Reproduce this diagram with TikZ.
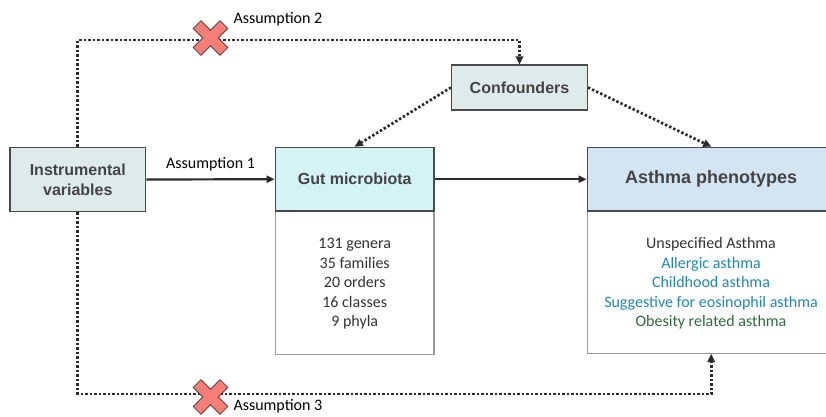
\documentclass[tikz,border=0pt]{standalone}
\usepackage{fontspec}
\setmainfont{Carlito}
\newfontfamily\titlefont{Liberation Sans}
\usetikzlibrary{arrows.meta,calc}
\definecolor{boxgray}{HTML}{DFEAEA}
\definecolor{gutfill}{HTML}{D3F3F5}
\definecolor{asfill}{HTML}{D3E5F3}
\definecolor{edgedark}{HTML}{4A4A4A}
\definecolor{edgelight}{HTML}{9A9A9A}
\definecolor{titletext}{HTML}{444444}
\definecolor{listtext}{HTML}{333333}
\definecolor{blueitem}{HTML}{2188B6}
\definecolor{greenitem}{HTML}{2F6B3B}
\definecolor{xfill}{HTML}{F67E76}
\definecolor{xedge}{HTML}{5A4040}
\definecolor{linedark}{HTML}{2B2B2B}
\tikzset{
  headbox/.style={draw=edgedark, line width=1.4pt, inner sep=0pt, align=center,
    font=\titlefont\bfseries\fontsize{16}{20}\selectfont, text=titletext},
  bodybox/.style={draw=edgelight, line width=1.3pt, fill=white, inner sep=0pt},
  listtxt/.style={align=center, font=\fontsize{16}{19.5}\selectfont, text=listtext},
  labeltxt/.style={font=\fontsize{16}{19}\selectfont, text=black},
  solidarrow/.style={draw=linedark, line width=2.2pt, -{Triangle[length=8pt,width=7pt]}},
  dotarrow/.style={draw=linedark, line width=2.7pt, dash pattern=on 2.4pt off 2.1pt,
    -{Triangle[length=8pt,width=8pt,line width=0pt]}},
  xmark/.style={fill=xfill, draw=xedge, line width=0.8pt, line join=miter}
}
\begin{document}
\begin{tikzpicture}[x=1pt,y=-1pt]
\useasboundingbox (0,0) rectangle (826,416);
\clip (0,0) rectangle (826,416);
\fill[white] (0,0) rectangle (826,416);

% boxes
\node[headbox, fill=boxgray, minimum width=135.7pt, minimum height=64.4pt] (iv) at (77.8,179.5) {Instrumental\\variables};
\node[bodybox, minimum width=158.7pt, minimum height=143.3pt] (gutb) at (354.7,282.7) {};
\node[headbox, fill=gutfill, minimum width=158.7pt, minimum height=63.7pt] (gut) at (354.7,179.2) {Gut microbiota};
\node[bodybox, minimum width=247.7pt, minimum height=142.3pt] (asb) at (711.2,282.2) {};
\node[headbox, fill=asfill, minimum width=247.7pt, minimum height=63.7pt, font=\titlefont\bfseries\fontsize{18}{22}\selectfont] (ash) at (711.2,179.2) {Asthma phenotypes};
\node[headbox, fill=boxgray, minimum width=135.6pt, minimum height=45pt] (conf) at (519.5,87.5) {Confounders};

% lists
\node[listtxt] (gutlist) at (354.7,284) {131 genera\\35 families\\20 orders\\16 classes\\9 phyla};
\node[listtxt] (aslist) at (711,283.3) {Unspecified Asthma\\\textcolor{blueitem}{Allergic asthma}\\\textcolor{blueitem}{Childhood asthma}\\\textcolor{blueitem}{Suggestive for eosinophil asthma}\\\textcolor{greenitem}{Obesity related asthma}};

% solid arrows
\draw[solidarrow] (iv.east) -- node[labeltxt, above=4pt] (a1) {Assumption 1} (gut.west);
\draw[solidarrow] (gut.east) -- (ash.west);

% dotted paths
\coordinate (topy) at (0,40);
\coordinate (boty) at (0,394);
\draw[dotarrow] (iv.north) |- (topy -| conf.north) -- (conf.north);
\draw[dotarrow] (iv.south) |- (boty -| asb.south) -- (asb.south);
\draw[dotarrow] (conf.west) -- (gut.north);
\draw[dotarrow] (conf.east) -- (ash.north);

% red crosses
\foreach \cx/\cy in {210.5/38, 210.5/397}{
  \draw[xmark, shift={(\cx,\cy)}, rotate=45]
    (-5.5,-19) -- (5.5,-19) -- (5.5,-5.5) -- (19,-5.5) -- (19,5.5) -- (5.5,5.5)
    -- (5.5,19) -- (-5.5,19) -- (-5.5,5.5) -- (-19,5.5) -- (-19,-5.5) -- (-5.5,-5.5) -- cycle;
}
\node[labeltxt, anchor=west] (a2) at (230,19.5) {Assumption 2};
\node[labeltxt, anchor=west] (a3) at (230,406) {Assumption 3};
\end{tikzpicture}
\end{document}
